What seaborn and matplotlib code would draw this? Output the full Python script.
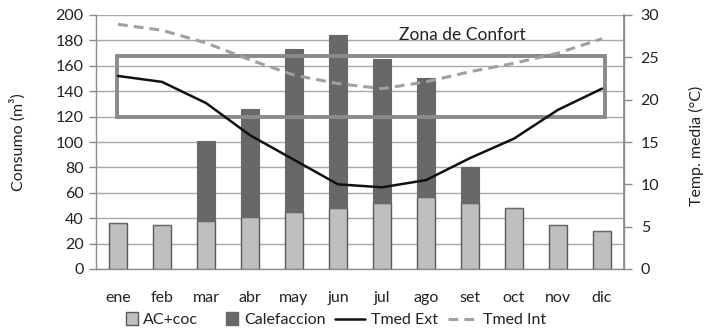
import matplotlib
matplotlib.use("Agg")
import matplotlib.pyplot as plt
from matplotlib.patches import Patch, Rectangle
from matplotlib.lines import Line2D
from matplotlib.legend_handler import HandlerPatch
import seaborn as sns
import pandas as pd
import numpy as np

months = ["ene", "feb", "mar", "abr", "may", "jun", "jul", "ago", "set", "oct", "nov", "dic"]
ac_coc = [36, 35, 38, 41, 45, 48, 52, 57, 52, 48, 35, 30]
calefaccion = [0, 0, 63, 85, 128, 136, 113, 93, 28, 0, 0, 0]
tmed_ext = [22.8, 22.1, 19.6, 15.8, 12.9, 10.0, 9.65, 10.5, 13.1, 15.4, 18.8, 21.3]
tmed_int = [28.9, 28.2, 26.7, 24.7, 22.9, 21.9, 21.3, 22.1, 23.3, 24.3, 25.5, 27.2]
confort_min, confort_max = 18, 25.1

sns.set_theme(style="white")
plt.rcParams["font.family"] = ["Lato", "DejaVu Sans"]

df = pd.DataFrame({"mes": months, "ac": ac_coc, "cal": calefaccion,
                   "ext": tmed_ext, "int": tmed_int, "pos": np.arange(len(months))})

fig = plt.figure(figsize=(7.06, 3.29), dpi=100)
ax = fig.add_axes([96 / 706, 1 - 269 / 329, 528 / 706, 254 / 329])

light = "#bfbfbf"
dark = "#686868"
edge = "#5a5a5a"
grid = "#a8a8a8"
txt = "#222222"
fs = 11.5
dash = (0, (3.2, 2.0))

sns.barplot(data=df, x="mes", y="ac", color=light, edgecolor=edge, linewidth=1.0,
            width=0.41, saturation=1, ax=ax, zorder=3)
sns.barplot(data=df, x="mes", y="cal", bottom=df["ac"], color=dark, edgecolor=dark,
            linewidth=0.8, width=0.41, saturation=1, ax=ax, zorder=3)

ax.set_ylim(0, 200)
ax.set_yticks(range(0, 201, 20))
ax.set_xlim(-0.5, 11.5)
ax.yaxis.grid(True, color=grid, linewidth=1.0, zorder=0)
ax.set_axisbelow(True)
ax.set_xlabel("")
ax.set_ylabel("Consumo (m³)", fontsize=fs, color=txt, labelpad=21)
for s in ["left", "bottom", "right"]:
    ax.spines[s].set_color("#8c8c8c")
    ax.spines[s].set_linewidth(1.0)
ax.spines["top"].set_visible(False)

# category ticks sit on the boundaries between months
ax.set_xticks(np.arange(-0.5, 12, 1), minor=False)
ax.set_xticklabels([])
ax.set_xticks(np.arange(12), minor=True)
ax.set_xticklabels(months, minor=True)
ax.tick_params(axis="x", which="major", direction="out", length=6, color="#8c8c8c", width=1)
ax.tick_params(axis="x", which="minor", length=0, pad=16, labelsize=fs, labelcolor=txt)
ax.tick_params(axis="y", direction="out", length=5, color="#8c8c8c", width=1,
               labelsize=fs, labelcolor=txt, pad=4)

ax2 = ax.twinx()
sns.lineplot(data=df, x="pos", y="ext", color="#111111", linewidth=1.8, ax=ax2, zorder=5)
sns.lineplot(data=df, x="pos", y="int", color="#a0a0a0", linewidth=2.2, ax=ax2,
             dashes=False, zorder=5, linestyle=dash)
ax2.add_patch(Rectangle((-0.03, confort_min), 11.1, confort_max - confort_min,
                        fill=False, edgecolor="#8a8a8a", linewidth=2.8, zorder=4))
ax2.text(7.82, 27.6, "Zona de Confort", fontsize=12.5, color=txt, ha="center", va="center")
ax2.set_ylim(0, 30)
ax2.set_yticks(range(0, 31, 5))
ax2.set_xlim(-0.5, 11.5)
ax2.set_xlabel("")
ax2.set_ylabel("")
ax2.tick_params(axis="y", direction="out", length=6, color="#8c8c8c", width=1,
                labelsize=fs, labelcolor=txt, pad=6)
for s in ["left", "bottom", "top"]:
    ax2.spines[s].set_visible(False)
ax2.spines["right"].set_color("#8c8c8c")
fig.text(696 / 706, 1 - 146 / 329, "Temp. media (°C)", rotation=90, fontsize=fs,
         color=txt, ha="center", va="center")


def square_patch(legend, orig_handle, xdescent, ydescent, width, height, fontsize):
    size = height * 1.05
    return Rectangle((-xdescent + width - size, -ydescent + (height - size) / 2), size, size)


handles = [
    Patch(facecolor=light, edgecolor=edge, linewidth=1.0, label="AC+coc"),
    Patch(facecolor=dark, edgecolor=dark, label="Calefaccion"),
    Line2D([], [], color="#111111", linewidth=1.8, label="Tmed Ext"),
    Line2D([], [], color="#a0a0a0", linewidth=2.2, linestyle=dash, label="Tmed Int"),
]
fig.legend(handles=handles, loc="center", bbox_to_anchor=(327 / 706, 1 - 320 / 329),
           ncol=4, frameon=False, fontsize=fs, handlelength=1.9, handleheight=0.75,
           handletextpad=0.35, columnspacing=0.6, labelcolor=txt,
           handler_map={Patch: HandlerPatch(patch_func=square_patch)})

fig.savefig("out.png", dpi=100)
